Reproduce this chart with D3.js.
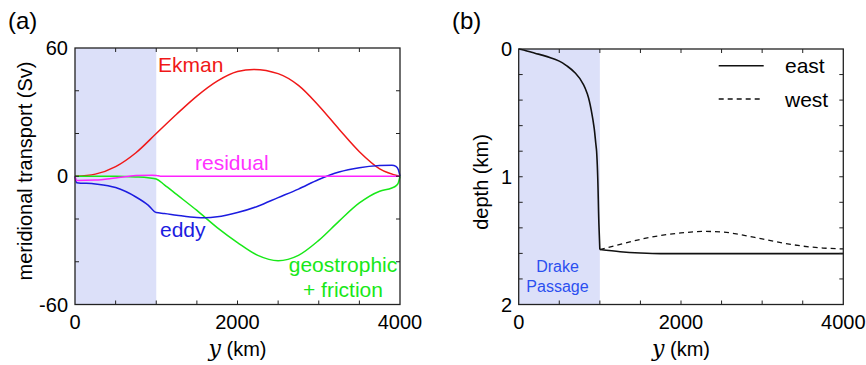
<!DOCTYPE html>
<html lang="en">
<head>
<meta charset="UTF-8">
<title>Transport and depth</title>
<script src="https://d3js.org/d3.v7.min.js"></script>
<style>
  body { margin: 0; background: #fff; }
  text { font-family: "Liberation Sans", Arial, sans-serif; }
</style>
</head>
<body>
<svg id="chart"></svg>
<script>
// ---- data ----
// panel (a): meridional transport (Sv) vs y (km)
const ekmanY   = [0, 250, 500, 750, 1000, 1250, 1500, 1750, 2000, 2200, 2500, 2750, 3000, 3250, 3500, 3750, 4000];
const ekmanV   = [0, 1, 4.5, 11, 20, 29, 37.5, 44.5, 49, 50, 48, 42.5, 33, 22, 11.5, 3.5, 0];

const eddyY    = [0, 20, 250, 500, 750, 900, 1000, 1100, 1250, 1500, 1600, 1750, 2000, 2250, 2500, 2750, 3000, 3250, 3500, 3750, 3900, 3950, 3980, 4000];
const eddyV    = [0, -3, -3.6, -5.3, -9.7, -13.5, -17, -17.4, -18.2, -19.3, -19.4, -19, -17, -14, -10, -6, -1.5, 2, 4, 5, 5.2, 4.6, 3, 0];

const geoY     = [0, 500, 750, 900, 1000, 1100, 1250, 1500, 1750, 2000, 2250, 2500, 2750, 3000, 3250, 3500, 3750, 3900, 3950, 3980, 4000];
const geoV     = [0, 0, -0.3, -0.7, -1.3, -4, -8.5, -16, -24, -31, -37, -39.5, -37, -30, -21, -12.5, -7, -5.5, -4.5, -3, 0];

const residY   = [0, 20, 250, 500, 750, 950, 1000, 1050, 4000];
const residV   = [0, -2, -1.8, -0.8, 0.3, 0.5, 0.4, 0, 0];

// panel (b): depth (km) vs y (km)
const eastY    = [0, 100, 200, 300, 400, 500, 600, 700, 800, 850, 900, 930, 950, 960, 990, 1000, 1250, 1500, 1750, 4000];
const eastD    = [0, 0.015, 0.033, 0.05, 0.07, 0.095, 0.135, 0.19, 0.28, 0.36, 0.5, 0.62, 0.74, 0.8, 1.4, 1.57, 1.587, 1.597, 1.602, 1.602];

const westY    = [1000, 1250, 1500, 1750, 2000, 2300, 2500, 2750, 3000, 3250, 3500, 3750, 4000];
const westD    = [1.57, 1.53, 1.49, 1.46, 1.44, 1.428, 1.432, 1.455, 1.487, 1.518, 1.543, 1.558, 1.565];

const xTickLabels = [0, 2000, 4000];
const aTickLabels = [60, 0, -60];
const bTickLabels = [0, 1, 2];
const drakeRange  = [0, 1000];

const width = 866, height = 365;
const svg = d3.select("#chart").attr("width", width).attr("height", height);

const shade = "#dce0f9";
const fs = 20;   // tick + axis labels
const ls = 21;   // curve labels, legend

function zip(xs, ys) { return xs.map((x, i) => [x, ys[i]]); }

function frame(g, x, y, xMinor, yMinor) {
  const [x0, x1] = x.range();
  const [ya, yb] = y.range();
  const top = Math.min(ya, yb), bot = Math.max(ya, yb);
  const tl = 4;
  // inward ticks on all four sides
  xMinor.forEach(v => {
    g.append("line").attr("x1", x(v)).attr("x2", x(v)).attr("y1", bot).attr("y2", bot - tl).attr("stroke", "#222");
    g.append("line").attr("x1", x(v)).attr("x2", x(v)).attr("y1", top).attr("y2", top + tl).attr("stroke", "#222");
  });
  yMinor.forEach(v => {
    g.append("line").attr("y1", y(v)).attr("y2", y(v)).attr("x1", x0).attr("x2", x0 + tl).attr("stroke", "#222");
    g.append("line").attr("y1", y(v)).attr("y2", y(v)).attr("x1", x1).attr("x2", x1 - tl).attr("stroke", "#222");
  });
  g.append("rect").attr("x", x0).attr("y", top).attr("width", x1 - x0).attr("height", bot - top)
    .attr("fill", "none").attr("stroke", "#222").attr("stroke-width", 1.3);
}

function xAxisText(g, x, bot) {
  xTickLabels.forEach(v => {
    g.append("text").attr("x", x(v)).attr("y", bot + 24).attr("text-anchor", "middle")
      .attr("font-size", fs).text(v);
  });
  const cx = (x.range()[0] + x.range()[1]) / 2;
  const t = g.append("text").attr("x", cx).attr("y", bot + 51).attr("text-anchor", "middle").attr("font-size", fs);
  t.append("tspan").attr("font-family", "DejaVu Serif, serif").attr("font-style", "italic").attr("font-size", 22).text("y");
  t.append("tspan").text(" (km)");
}

// ---------------- panel (a) ----------------
const ga = svg.append("g");
const xa = d3.scaleLinear().domain([0, 4000]).range([75, 400]);
const ya = d3.scaleLinear().domain([-60, 60]).range([304.5, 48]);

ga.append("rect").attr("x", xa(drakeRange[0])).attr("y", ya(60))
  .attr("width", xa(drakeRange[1]) - xa(drakeRange[0])).attr("height", ya(-60) - ya(60)).attr("fill", shade);

const lineA = d3.line().x(d => xa(d[0])).y(d => ya(d[1])).curve(d3.curveMonotoneX);
[[ekmanY, ekmanV, "#f01818"], [geoY, geoV, "#18e818"], [eddyY, eddyV, "#1c1ce0"], [residY, residV, "#ff22ff"]]
  .forEach(([xs, vs, c]) => {
    ga.append("path").datum(zip(xs, vs)).attr("d", lineA)
      .attr("fill", "none").attr("stroke", c).attr("stroke-width", 1.5);
  });

frame(ga, xa, ya, d3.range(500, 4000, 500), d3.range(-40, 60, 20));

aTickLabels.forEach(v => {
  ga.append("text").attr("x", 68).attr("y", ya(v) + 7).attr("text-anchor", "end").attr("font-size", fs).text(v);
});
xAxisText(ga, xa, 304.5);

ga.append("text").attr("transform", "translate(32,171) rotate(-90)").attr("text-anchor", "middle")
  .attr("font-size", fs).text("meridional transport (Sv)");
ga.append("text").attr("x", 8).attr("y", 29).attr("font-size", 24).text("(a)");

ga.append("text").attr("x", 158).attr("y", 72).attr("font-size", ls).attr("fill", "#f01818").text("Ekman");
ga.append("text").attr("x", 195).attr("y", 170).attr("font-size", ls).attr("fill", "#ff33ff").text("residual");
ga.append("text").attr("x", 160).attr("y", 237).attr("font-size", ls).attr("fill", "#1c1ce0").text("eddy");
ga.append("text").attr("x", 343).attr("y", 272).attr("text-anchor", "middle").attr("font-size", ls).attr("fill", "#18e818").text("geostrophic");
ga.append("text").attr("x", 343).attr("y", 297).attr("text-anchor", "middle").attr("font-size", ls).attr("fill", "#18e818").text("+ friction");

// ---------------- panel (b) ----------------
const gb = svg.append("g");
const xb = d3.scaleLinear().domain([0, 4000]).range([518.7, 843.3]);
const yb = d3.scaleLinear().domain([0, 2]).range([49, 304.5]);

gb.append("rect").attr("x", xb(drakeRange[0])).attr("y", yb(0))
  .attr("width", xb(drakeRange[1]) - xb(drakeRange[0])).attr("height", yb(2) - yb(0)).attr("fill", shade);

const lineB = d3.line().x(d => xb(d[0])).y(d => yb(d[1])).curve(d3.curveMonotoneY);
const lineB2 = d3.line().x(d => xb(d[0])).y(d => yb(d[1])).curve(d3.curveMonotoneX);
gb.append("path").datum(zip(westY, westD)).attr("d", lineB2)
  .attr("fill", "none").attr("stroke", "#111").attr("stroke-width", 1.3).attr("stroke-dasharray", "5,4");
gb.append("path").datum(zip(eastY.slice(0, 16), eastD.slice(0, 16))).attr("d", lineB)
  .attr("fill", "none").attr("stroke", "#111").attr("stroke-width", 1.6);
gb.append("path").datum(zip(eastY.slice(15), eastD.slice(15))).attr("d", lineB2)
  .attr("fill", "none").attr("stroke", "#111").attr("stroke-width", 1.6);

frame(gb, xb, yb, d3.range(500, 4000, 500), d3.range(0.2, 2, 0.2));

bTickLabels.forEach(v => {
  gb.append("text").attr("x", 512).attr("y", yb(v) + 7).attr("text-anchor", "end").attr("font-size", fs).text(v);
});
xAxisText(gb, xb, 304.5);

gb.append("text").attr("transform", "translate(488,182) rotate(-90)").attr("text-anchor", "middle")
  .attr("font-size", fs).text("depth (km)");
gb.append("text").attr("x", 452).attr("y", 29).attr("font-size", 24).text("(b)");

gb.append("text").attr("x", 557.5).attr("y", 272).attr("text-anchor", "middle").attr("font-size", 16).attr("fill", "#2b4ff0").text("Drake");
gb.append("text").attr("x", 557.5).attr("y", 292).attr("text-anchor", "middle").attr("font-size", 16).attr("fill", "#2b4ff0").text("Passage");

// legend
gb.append("line").attr("x1", 718.7).attr("x2", 763.7).attr("y1", 65.7).attr("y2", 65.7).attr("stroke", "#111").attr("stroke-width", 1.6);
gb.append("line").attr("x1", 718.7).attr("x2", 762).attr("y1", 99).attr("y2", 99).attr("stroke", "#111").attr("stroke-width", 1.3).attr("stroke-dasharray", "5,4");
gb.append("text").attr("x", 785).attr("y", 73).attr("font-size", ls).text("east");
gb.append("text").attr("x", 785).attr("y", 107).attr("font-size", ls).text("west");
</script>
</body>
</html>
